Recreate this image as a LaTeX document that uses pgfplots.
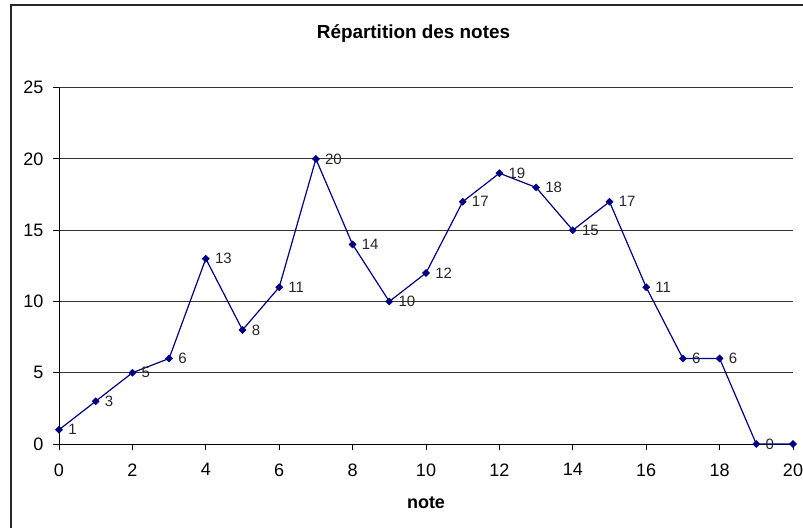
\documentclass[border=0pt]{standalone}
\usepackage{pgfplots}
\usepackage{pgfplotstable}
\pgfplotsset{compat=1.18}
\usepackage{fontspec}
\setmainfont{Liberation Sans}
\definecolor{navy}{HTML}{000080}
\pgfplotstableread{
x y lab
0 1 1
1 3 3
2 5 5
3 6 6
4 13 13
5 8 8
6 11 11
7 20 20
8 14 14
9 10 10
10 12 12
11 17 17
12 19 19
13 18 18
14 15 15
15 17 17
16 11 11
17 6 6
18 6 6
19 0 0
20 0 {}
}\notes
\begin{document}
\begin{tikzpicture}
\path[use as bounding box] (0pt,0pt) rectangle (803pt,528pt);
\draw[line width=1.3pt, black!85] (11pt,0pt) -- (11pt,523pt) -- (803pt,523pt);
\node[font=\fontsize{18.9}{22}\selectfont\bfseries] at (413.5pt,494pt) {Répartition des notes};
\begin{axis}[
  at={(59pt,84pt)}, anchor=south west,
  scale only axis, width=734pt, height=356.3pt,
  xmin=0, xmax=20, ymin=0, ymax=25,
  axis x line*=bottom, axis y line*=left,
  axis line style={black, line width=1pt},
  xtick={0,2,...,20}, ytick={0,5,...,25},
  tick align=outside, major tick length=6pt,
  tick style={black, line width=1pt},
  ymajorgrids, major grid style={black!80, line width=1pt},
  every tick label/.append style={font=\fontsize{18}{21}\selectfont},
  xticklabel style={yshift=-10pt},
  yticklabel style={xshift=-6pt},
  /pgf/number format/assume math mode=true,
  xlabel={\bfseries note},
  xlabel style={font=\fontsize{18}{21}\selectfont, at={(axis description cs:0.5,0)}, anchor=center, yshift=-59pt},
  clip=false,
  nodes near coords,
  point meta=explicit symbolic,
  every node near coord/.append style={anchor=west, font=\fontsize{15}{18}\selectfont, text=black!85, inner sep=0pt, xshift=9pt, yshift=0pt},
]
\addplot[color=navy, line width=1.2pt, mark=square*, mark size=2.5pt, mark options={rotate=45, fill=navy, draw=navy, line width=0.5pt}]
  table[x=x, y=y, meta=lab] {\notes};
\end{axis}
\end{tikzpicture}
\end{document}
